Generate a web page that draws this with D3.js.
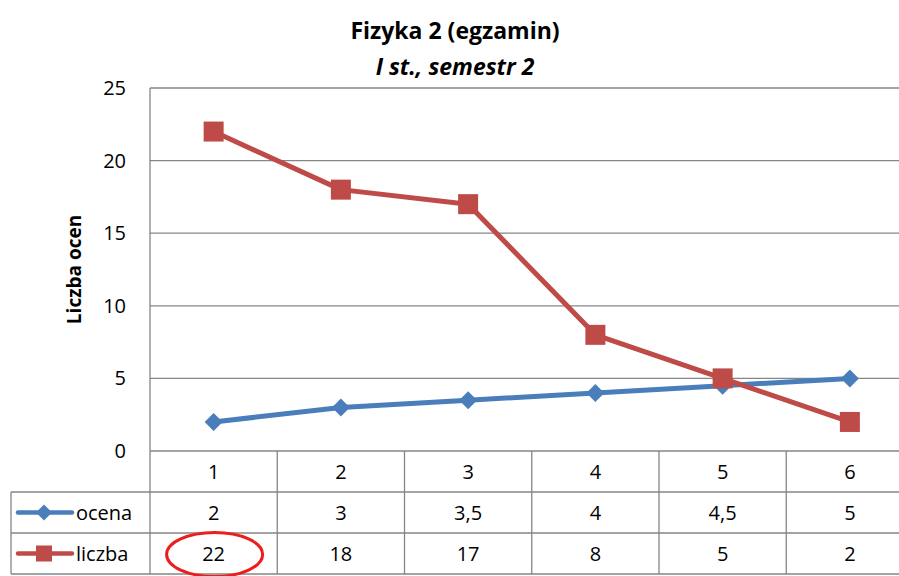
<!DOCTYPE html>
<html>
<head>
<meta charset="utf-8">
<script src="https://cdn.jsdelivr.net/npm/d3@7"></script>
<style>
  body { margin: 0; background: #fff; }
  svg { font-family: "Open Sans", Lato, sans-serif; }
</style>
</head>
<body>
<div id="chart"></div>
<script>
const categories = ["1", "2", "3", "4", "5", "6"];
const ocena = [2, 3, 3.5, 4, 4.5, 5];
const liczba = [22, 18, 17, 8, 5, 2];
const ocenaLabels = ["2", "3", "3,5", "4", "4,5", "5"];
const liczbaLabels = ["22", "18", "17", "8", "5", "2"];
const yTicks = [0, 5, 10, 15, 20, 25];

const width = 899, height = 576;
const plotLeft = 150, plotRight = 913.5, plotTop = 88, plotBottom = 451;
const rowH = 41;
const tableLeft = 11;
const grid = "#868686";
const blue = "#4a7ebb", red = "#be4b48";

const svg = d3.select("#chart").append("svg")
    .attr("width", width)
    .attr("height", height);

const x = d3.scaleBand().domain(categories).range([plotLeft, plotRight]);
const y = d3.scaleLinear().domain([0, 25]).range([plotBottom, plotTop]);

// title
svg.append("text")
    .attr("x", 455).attr("y", 39)
    .attr("text-anchor", "middle")
    .style("font-size", "23px").style("font-weight", "bold")
    .text("Fizyka 2 (egzamin)");
svg.append("text")
    .attr("x", 455).attr("y", 75)
    .attr("text-anchor", "middle")
    .style("font-size", "23px").style("font-weight", "bold").style("font-style", "italic")
    .text("I st., semestr 2");

// horizontal gridlines
svg.append("g").selectAll("line")
    .data(yTicks)
    .enter().append("line")
    .attr("x1", plotLeft).attr("x2", plotRight)
    .attr("y1", d => y(d)).attr("y2", d => y(d))
    .attr("stroke", grid).attr("stroke-width", 1.3);

// y axis labels
svg.append("g").selectAll("text")
    .data(yTicks)
    .enter().append("text")
    .attr("x", 126)
    .attr("y", d => y(d) + 7)
    .attr("text-anchor", "end")
    .style("font-size", "20px")
    .text(d => d);

svg.append("text")
    .attr("transform", "translate(81," + ((plotTop + plotBottom) / 2) + ") rotate(-90)")
    .attr("text-anchor", "middle")
    .style("font-size", "19px").style("font-weight", "bold")
    .text("Liczba ocen");

// table lines
const tg = svg.append("g").attr("stroke", grid).attr("stroke-width", 1.3);
tg.append("line").attr("x1", plotLeft).attr("x2", plotLeft).attr("y1", plotTop).attr("y2", plotBottom + rowH * 3);
categories.forEach(c => {
    tg.append("line")
        .attr("x1", x(c) + x.bandwidth()).attr("x2", x(c) + x.bandwidth())
        .attr("y1", plotBottom).attr("y2", plotBottom + rowH * 3);
});
[1, 2, 3].forEach(i => {
    tg.append("line")
        .attr("x1", tableLeft).attr("x2", plotRight)
        .attr("y1", plotBottom + rowH * i).attr("y2", plotBottom + rowH * i);
});
tg.append("line").attr("x1", tableLeft).attr("x2", tableLeft)
    .attr("y1", plotBottom + rowH).attr("y2", plotBottom + rowH * 3);

// table texts
function rowText(labels, row) {
    svg.append("g").selectAll("text")
        .data(labels)
        .enter().append("text")
        .attr("x", (d, i) => x(categories[i]) + x.bandwidth() / 2)
        .attr("y", plotBottom + rowH * row + 28)
        .attr("text-anchor", "middle")
        .style("font-size", "20px")
        .text(d => d);
}
rowText(categories, 0);
rowText(ocenaLabels, 1);
rowText(liczbaLabels, 2);

const diamond = "M0,-9L9,0L0,9L-9,0Z";

// legend keys
function legendKey(row, color, name, isSquare) {
    const cy = plotBottom + rowH * row + rowH / 2;
    svg.append("line")
        .attr("x1", 18).attr("x2", 72).attr("y1", cy).attr("y2", cy)
        .attr("stroke", color).attr("stroke-width", 4.5).attr("stroke-linecap", "round");
    if (isSquare) {
        svg.append("rect")
            .attr("x", 44 - 8).attr("y", cy - 8)
            .attr("width", 16).attr("height", 16)
            .attr("fill", color);
    } else {
        svg.append("path")
            .attr("transform", "translate(44," + cy + ")")
            .attr("d", "M0,-8L8,0L0,8L-8,0Z")
            .attr("fill", color);
    }
    svg.append("text")
        .attr("x", 76).attr("y", cy + 7)
        .style("font-size", "20px")
        .text(name);
}
legendKey(1, blue, "ocena", false);
legendKey(2, red, "liczba", true);

// series
const cx = (d, i) => x(categories[i]) + x.bandwidth() / 2;
const line = d3.line().x(cx).y(d => y(d));

svg.append("path").datum(ocena)
    .attr("d", line).attr("fill", "none")
    .attr("stroke", blue).attr("stroke-width", 5).attr("stroke-linejoin", "round");
svg.append("path").datum(liczba)
    .attr("d", line).attr("fill", "none")
    .attr("stroke", red).attr("stroke-width", 5).attr("stroke-linejoin", "round");

svg.append("g").selectAll("path")
    .data(ocena)
    .enter().append("path")
    .attr("transform", (d, i) => "translate(" + cx(d, i) + "," + y(d) + ")")
    .attr("d", diamond)
    .attr("fill", blue);

svg.append("g").selectAll("rect")
    .data(liczba)
    .enter().append("rect")
    .attr("x", (d, i) => cx(d, i) - 10)
    .attr("y", d => y(d) - 10)
    .attr("width", 20).attr("height", 20)
    .attr("fill", red);

// red marking around the first count
svg.append("ellipse")
    .attr("cx", x(categories[0]) + x.bandwidth() / 2 + 1)
    .attr("cy", plotBottom + rowH * 2.5 + 1)
    .attr("rx", 48).attr("ry", 22)
    .attr("fill", "none")
    .attr("stroke", "#ee1c1c").attr("stroke-width", 3);
</script>
</body>
</html>
